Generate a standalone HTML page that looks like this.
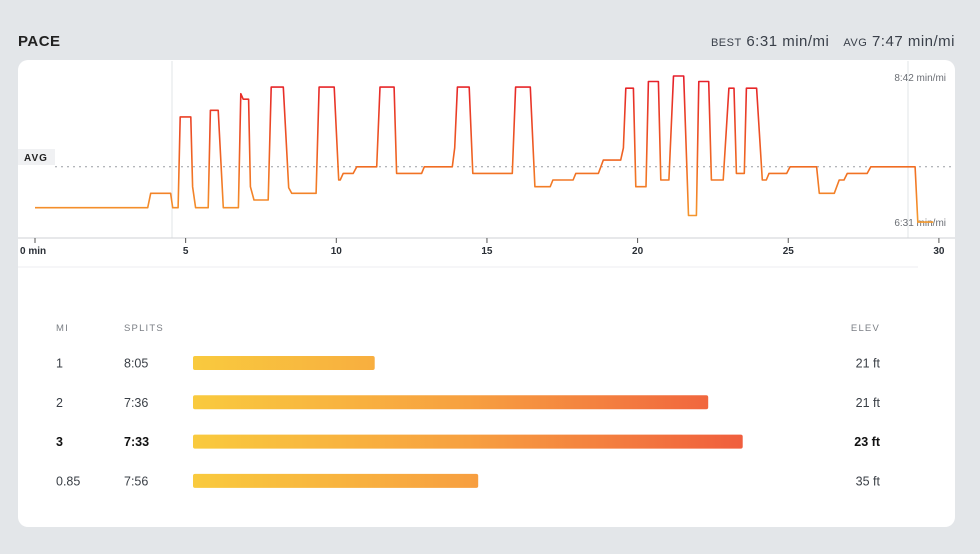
<!DOCTYPE html>
<html><head><meta charset="utf-8">
<style>
body{margin:0;width:980px;height:554px;background:#e3e6e9;font-family:"Liberation Sans",sans-serif;position:relative;overflow:hidden;color:#2a2f36}
.hdr{position:absolute;top:33px;font-size:15px;letter-spacing:0.5px}
.card{position:absolute;left:18px;top:60px;width:937px;height:467px;background:#fff;border-radius:10px}
.sm{font-size:11px;letter-spacing:0.5px}
</style></head><body>
<div class="hdr" style="left:18px;font-weight:bold;color:#222">PACE</div>
<div class="hdr" style="right:25px;color:#3a404a"><span class="sm">BEST</span> 6:31 min/mi &nbsp;&nbsp;<span class="sm">AVG</span> 7:47 min/mi</div>
<div class="card"></div>
<svg id="chart" width="980" height="554" style="position:absolute;left:0;top:0"></svg>
<script>
const times=[0,3.74,3.84,4.5,4.57,4.75,4.82,5.17,5.23,5.33,5.75,5.82,6.08,6.25,6.75,6.83,6.91,7.09,7.15,7.27,7.74,7.84,8.24,8.42,8.52,9.33,9.43,9.93,10.08,10.13,10.23,10.56,10.68,11.34,11.45,11.92,12.0,12.83,12.92,13.85,13.93,14.02,14.41,14.53,15.84,15.95,16.44,16.59,17.10,17.19,17.86,17.95,18.70,18.86,19.44,19.53,19.61,19.86,19.94,20.28,20.36,20.69,20.77,21.04,21.19,21.53,21.69,21.95,22.03,22.36,22.45,22.84,23.03,23.2,23.28,23.54,23.61,23.95,24.14,24.27,24.36,24.95,25.06,25.94,26.03,26.53,26.69,26.85,26.96,27.62,27.74,29.21,29.30,29.81];
const paces=[403,403,416,416,403,403,485,485,422,403,403,491,491,403,403,506,501,501,422,410,410,512,512,421,416,416,512,512,428,428,434,434,440,440,512,512,434,434,440,440,457,512,512,434,434,512,512,422,422,428,428,434,434,446,446,457,511,511,422,422,517,517,428,428,522,522,396,396,517,517,428,428,511,511,434,434,511,511,428,428,434,434,440,440,416,416,428,428,434,434,440,440,390,390];
const xTicks=[0,5,10,15,20,25,30];
const xTickLabels=["0 min","5","10","15","20","25","30"];
const avgPace=440;
const splitMiles=["1","2","3","0.85"];
const splitSecs=[485,456,453,476];
const splitLabels=["8:05","7:36","7:33","7:56"];
const elevs=["21 ft","21 ft","23 ft","35 ft"];
const NS="http://www.w3.org/2000/svg";
const svg=document.getElementById('chart');
const X=t=>35+t*30.13;
const Y=v=>221-(v-391)/0.9034;
const W=s=>(500.8-s)*11.5;
function mk(tag,a,p){const e=document.createElementNS(NS,tag);for(const k in a)e.setAttribute(k,a[k]);(p||svg).appendChild(e);return e;}
const defs=mk('defs',{});
const g1=mk('linearGradient',{id:'lg',gradientUnits:'userSpaceOnUse',x1:0,y1:76,x2:0,y2:222},defs);
mk('stop',{offset:0,'stop-color':'#e51d2a'},g1);mk('stop',{offset:0.6,'stop-color':'#f06a22'},g1);mk('stop',{offset:1,'stop-color':'#f59a2e'},g1);
const g2=mk('linearGradient',{id:'bg',gradientUnits:'userSpaceOnUse',x1:193,y1:0,x2:743,y2:0},defs);
mk('stop',{offset:0,'stop-color':'#f9ca3e'},g2);mk('stop',{offset:0.5,'stop-color':'#f7a040'},g2);mk('stop',{offset:1,'stop-color':'#f05e3e'},g2);
let e;
e=mk('line',{x1:172,y1:61,x2:172,y2:238,stroke:'#e2e4e7'});
e=mk('line',{x1:908,y1:61,x2:908,y2:238,stroke:'#e2e4e7'});
e=mk('line',{x1:55,y1:Y(avgPace),x2:955,y2:Y(avgPace),stroke:'#9a9ea4','stroke-dasharray':'2 4'});
e=mk('rect',{x:18,y:149,width:37,height:16,fill:'#f0f1f3'});
e=mk('text',{x:24,y:161,'font-size':10,'font-weight':'bold','letter-spacing':1,fill:'#222'});e.textContent='AVG';
e=mk('text',{x:946,y:81,'font-size':10,fill:'#6a6e74','text-anchor':'end'});e.textContent='8:42 min/mi';
e=mk('text',{x:946,y:226,'font-size':10,fill:'#6a6e74','text-anchor':'end'});e.textContent='6:31 min/mi';
e=mk('path',{d:times.map((t,i)=>(i?'L':'M')+X(t).toFixed(1)+','+Y(paces[i]).toFixed(1)).join(''),fill:'none',stroke:'url(#lg)','stroke-width':1.6,'stroke-linejoin':'round'});


e=mk('line',{x1:18,y1:238,x2:955,y2:238,stroke:'#cfd2d6'});
e=mk('line',{x1:18,y1:267,x2:918,y2:267,stroke:'#eceef0'});
xTicks.forEach((t,i)=>{
 const tk=mk('line',{x1:X(t),y1:238,x2:X(t),y2:243,stroke:'#555'});
 
 
 const tx=mk('text',{x:i?X(t):20,y:254,'font-size':10,'font-weight':'bold',fill:'#2a2f36','text-anchor':i?'middle':'start'});
 tx.textContent=xTickLabels[i];
 
 
});
[['MI',56],['SPLITS',124],['ELEV',880]].forEach(([s,x],i)=>{
 const h=mk('text',{x:x,y:331,'font-size':9.5,'letter-spacing':1.2,fill:'#7a7e84','text-anchor':i==2?'end':'start'});
 h.textContent=s;
 
 
});
splitSecs.forEach((s,i)=>{
 const cy=363+i*39.3, b=i==2?'bold':'normal', c=i==2?'#111':'#3a3f46';
 const t1=mk('text',{x:56,y:cy+4.5,'font-size':12.5,'font-weight':b,fill:c});t1.textContent=splitMiles[i];
 
 
 const t2=mk('text',{x:124,y:cy+4.5,'font-size':12.5,'font-weight':b,fill:c});t2.textContent=splitLabels[i];
 
 
 const r=mk('rect',{x:193,y:cy-7,width:W(s),height:14,rx:2,fill:'url(#bg)'});
 
 
 const t3=mk('text',{x:880,y:cy+4.5,'font-size':12.5,'font-weight':b,fill:c,'text-anchor':'end'});t3.textContent=elevs[i];
 
 
});
</script>
</body></html>
